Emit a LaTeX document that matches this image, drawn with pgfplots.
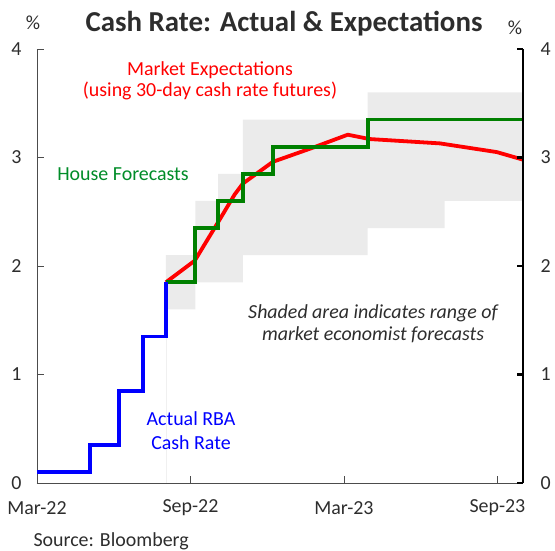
\documentclass[border=0pt]{standalone}
\usepackage{fontspec}
\setmainfont{Carlito}
\usepackage{pgfplots}
\pgfplotsset{compat=1.18}
\definecolor{shade}{RGB}{235,235,235}
\definecolor{dgreen}{RGB}{0,128,0}
\definecolor{lbl}{RGB}{45,45,45}
\definecolor{txtgreen}{RGB}{0,140,40}
\begin{document}
\begin{tikzpicture}[x=1bp,y=1bp]
\useasboundingbox (-37,-68) rectangle (518,483);
\begin{axis}[at={(0,0)}, anchor=south west, scale only axis,
  width=486bp, height=434bp,
  xmin=0, xmax=19, ymin=0, ymax=4,
  axis x line*=bottom, axis y line*=left,
  axis line style={-, draw=black!70, line width=0.8bp},
  xtick={0,6,12,18}, xticklabels={Mar-22,Sep-22,Mar-23,Sep-23},
  ytick={0,1,2,3,4},
  tick align=inside, major tick length=7bp,
  tick style={black!70, line width=0.8bp},
  ticklabel style={font=\fontsize{20}{24}\selectfont, text=lbl},
  xticklabel style={anchor=center, yshift=-25bp},
  yticklabel style={xshift=-12bp},
  /pgf/number format/assume math mode=true,
  clip=false]
% shaded range of economist forecasts
\addplot[fill=shade, draw=none] coordinates {
 (5.04,1.6) (5.04,2.1) (6.19,2.1) (6.19,2.6) (7.08,2.6) (7.08,2.85)
 (8.05,2.85) (8.05,3.35) (12.93,3.35) (12.93,3.6) (19,3.6) (19,2.6)
 (15.94,2.6) (15.94,2.35) (12.93,2.35) (12.93,2.1) (8.05,2.1) (8.05,1.85)
 (6.19,1.85) (6.19,1.6)} -- cycle;
\addplot[draw=black!6, line width=0.6bp] coordinates {(5.04,0) (5.04,1.6)};
% market expectations
\addplot[red, line width=3.8bp, line join=round] coordinates {
 (5.04,1.85) (6.17,2.05) (7.07,2.40) (7.73,2.66) (8.05,2.76) (9.22,2.96)
 (10.78,3.09) (12.15,3.21) (13.0,3.17) (15.75,3.13) (17.97,3.05) (19,2.98)};
% house forecasts
\addplot[dgreen, line width=3.8bp, line join=miter] coordinates {
 (5.04,1.85) (6.19,1.85) (6.19,2.35) (7.08,2.35) (7.08,2.6) (8.05,2.6)
 (8.05,2.85) (9.22,2.85) (9.22,3.1) (12.93,3.1) (12.93,3.35) (19,3.35)};
% actual cash rate
\addplot[blue, line width=3.8bp, line join=miter] coordinates {
 (0,0.1) (2.07,0.1) (2.07,0.35) (3.22,0.35) (3.22,0.85) (4.13,0.85)
 (4.13,1.35) (5.04,1.35) (5.04,1.85)};
\end{axis}
\begin{axis}[at={(0,0)}, anchor=south west, scale only axis,
  width=486bp, height=434bp,
  xmin=0, xmax=19, ymin=0, ymax=4,
  axis x line=none, axis y line*=right,
  axis line style={-, draw=black, line width=2.6bp},
  ytick={0,1,2,3,4},
  tick align=inside, major tick length=6bp,
  tick style={black, line width=2.6bp},
  ticklabel style={font=\fontsize{20}{24}\selectfont, text=lbl},
  yticklabel style={xshift=14bp},
  /pgf/number format/assume math mode=true]
\addplot[draw=none] coordinates {(0,0)};
\end{axis}
\node[font=\fontsize{29}{32}\selectfont\bfseries, text=lbl] at (247,459) {Cash Rate: Actual \& Expectations};
\node[font=\fontsize{20}{22}\selectfont, text=lbl] at (-4,460) {\%};
\node[font=\fontsize{20}{22}\selectfont, text=lbl] at (478,455) {\%};
\node[font=\fontsize{20}{21}\selectfont, text=red, align=center] at (173,402) {Market Expectations\\(using 30-day cash rate futures)};
\node[font=\fontsize{20}{22}\selectfont, text=txtgreen] at (86,309) {House Forecasts};
\node[font=\fontsize{20}{24}\selectfont, text=blue, align=center] at (154,52) {Actual RBA\\Cash Rate};
\node[font=\fontsize{20}{22}\selectfont\itshape, text=lbl, align=center] at (336,159) {Shaded area indicates range of\\market economist forecasts};
\node[font=\fontsize{20}{22}\selectfont, text=lbl, anchor=west] at (-7,-58) {Source: Bloomberg};
\end{tikzpicture}
\end{document}
